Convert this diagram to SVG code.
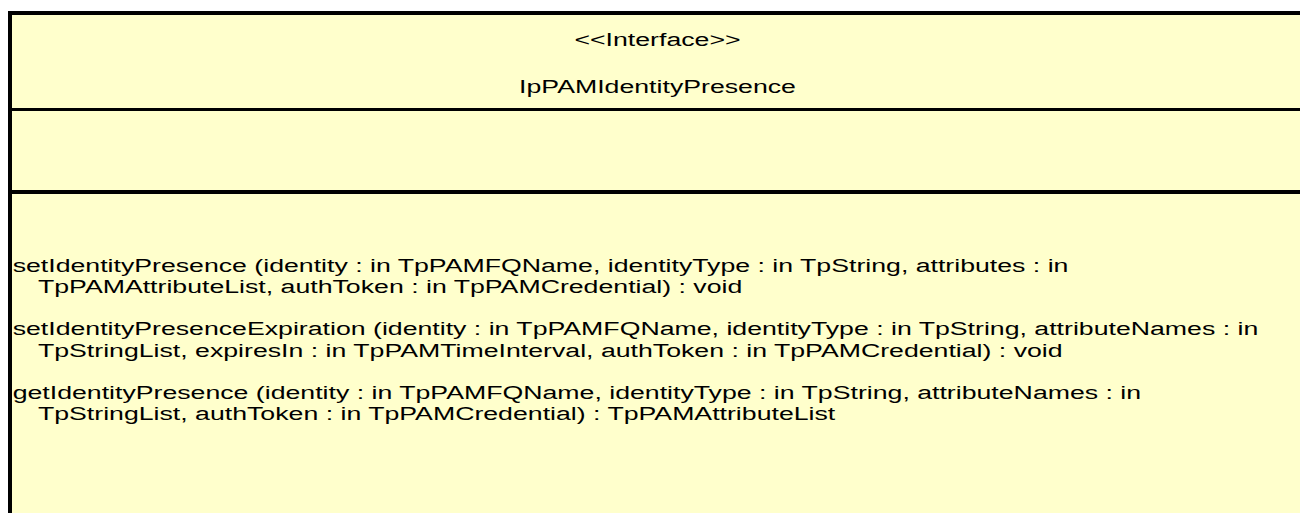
<svg xmlns="http://www.w3.org/2000/svg" width="1300" height="513" viewBox="0 0 1300 513">
<style>
.box{fill:#FFFFCC;stroke:#000;stroke-width:4}
.div{stroke:#000}
.t{font-family:"Liberation Sans",Arial,sans-serif;font-size:19px;fill:#000}
.c{text-anchor:middle}
</style>
<rect width="1300" height="513" fill="#FFFFFF"/>
<g id="IpPAMIdentityPresence">
<rect class="box" x="10" y="13" width="1310" height="520"/>
<line class="div" x1="10" y1="109.5" x2="1310" y2="109.5" stroke-width="3"/>
<line class="div" x1="10" y1="192" x2="1310" y2="192" stroke-width="4"/>
<g transform="scale(1.405,1)">
<text class="t c" x="468" y="46">&lt;&lt;Interface&gt;&gt;</text>
<text class="t c" x="468" y="93">IpPAMIdentityPresence</text>
<text class="t" x="9" y="272">setIdentityPresence (identity : in TpPAMFQName, identityType : in TpString, attributes : in</text>
<text class="t" x="27" y="293">TpPAMAttributeList, authToken : in TpPAMCredential) : void</text>
<text class="t" x="9" y="335">setIdentityPresenceExpiration (identity : in TpPAMFQName, identityType : in TpString, attributeNames : in</text>
<text class="t" x="27" y="357">TpStringList, expiresIn : in TpPAMTimeInterval, authToken : in TpPAMCredential) : void</text>
<text class="t" x="9" y="399">getIdentityPresence (identity : in TpPAMFQName, identityType : in TpString, attributeNames : in</text>
<text class="t" x="27" y="420">TpStringList, authToken : in TpPAMCredential) : TpPAMAttributeList</text>
</g>
</g>
<g id="connectors"/>
</svg>
